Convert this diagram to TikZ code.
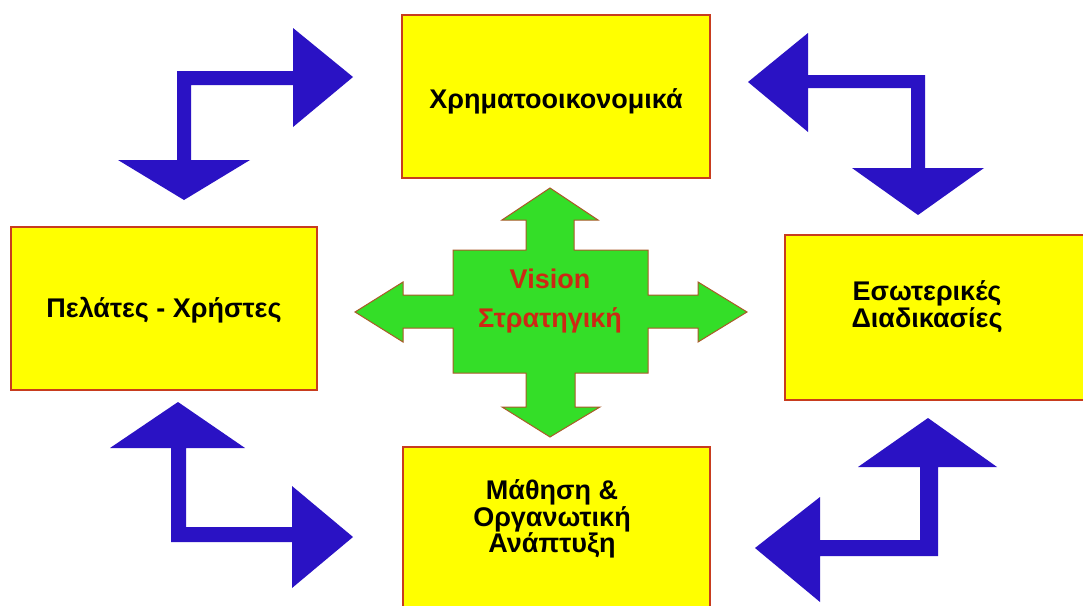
\documentclass[tikz,border=0pt]{standalone}
\usepackage{fontspec}
\setmainfont{Liberation Sans}
\definecolor{boxfill}{RGB}{255,255,0}
\definecolor{boxline}{RGB}{200,60,30}
\definecolor{crossfill}{RGB}{52,222,40}
\definecolor{crossline}{RGB}{170,90,40}
\definecolor{visionred}{RGB}{205,40,20}
\definecolor{bentblue}{RGB}{42,18,196}
\tikzset{
  panel/.style={draw=boxline, line width=1.2pt, fill=boxfill},
  paneltext/.style={font=\fontsize{27}{26.7}\selectfont\bfseries, text=black, align=center, inner sep=0pt},
  visiontext/.style={font=\fontsize{27}{26.7}\selectfont\bfseries, text=visionred, align=center, inner sep=0pt},
  cross/.style={draw=crossline, line width=1pt, fill=crossfill, line join=miter},
  bent/.style={fill=bentblue, draw=none}
}
\begin{document}
\begin{tikzpicture}[x=1pt,y=-1pt]
  \clip (0,0) rectangle (1083,605);
  \fill[white] (0,0) rectangle (1083,605);

  % the four perspective panels
  \draw[panel] (402,15) rectangle (710,178);
  \draw[panel] (11,227) rectangle (317,390);
  \draw[panel] (785,235) rectangle (1095,400);
  \draw[panel] (403,447) rectangle (710,620);

  \node[paneltext] (fin) at (556,101) {Χρηματοοικονομικά};
  \node[paneltext] (cust) at (164,310) {Πελάτες - Χρήστες};
  \node[paneltext] (proc) at (927,307) {Εσωτερικές\\Διαδικασίες};
  \node[paneltext] (learn) at (552,519) {Μάθηση \&\\Οργανωτική\\Ανάπτυξη};

  % central four-way arrow
  \draw[cross] (453,250) -- (526,250) -- (526,220) -- (502,220) -- (550,188)
    -- (598,220) -- (574,220) -- (574,250) -- (648,250) -- (648,295)
    -- (698,295) -- (698,282) -- (747,312) -- (698,342) -- (698,328)
    -- (648,328) -- (648,373) -- (575,373) -- (575,407) -- (600,407)
    -- (550,437) -- (502,407) -- (526,407) -- (526,373) -- (453,373)
    -- (453,328) -- (403,328) -- (403,342) -- (355,312) -- (403,282)
    -- (403,295) -- (453,295) -- cycle;
  \node[visiontext] (vis) at (550,279) {Vision};
  \node[visiontext] (strat) at (550,320) {Στρατηγική};

  % bent double arrows between neighbouring panels
  \fill[bent] (353,77) -- (293,127) -- (293,85) -- (191,85) -- (191,160)
    -- (250,160) -- (184,200) -- (118,160) -- (177,160) -- (177,71)
    -- (293,71) -- (293,28) -- cycle;
  \fill[bent] (748,82) -- (808,33) -- (808,75) -- (925,75) -- (925,168)
    -- (984,168) -- (918,215) -- (852,168) -- (911,168) -- (911,88)
    -- (808,88) -- (808,132) -- cycle;
  \fill[bent] (178,402) -- (245,448) -- (186,448) -- (186,527) -- (292,527)
    -- (292,486) -- (353,537) -- (292,588) -- (292,542) -- (171,542)
    -- (171,448) -- (110,448) -- cycle;
  \fill[bent] (928,418) -- (997,467) -- (938,467) -- (938,556) -- (820,556)
    -- (820,602) -- (755,548) -- (820,497) -- (820,540) -- (920,540)
    -- (920,467) -- (858,467) -- cycle;
\end{tikzpicture}
\end{document}
